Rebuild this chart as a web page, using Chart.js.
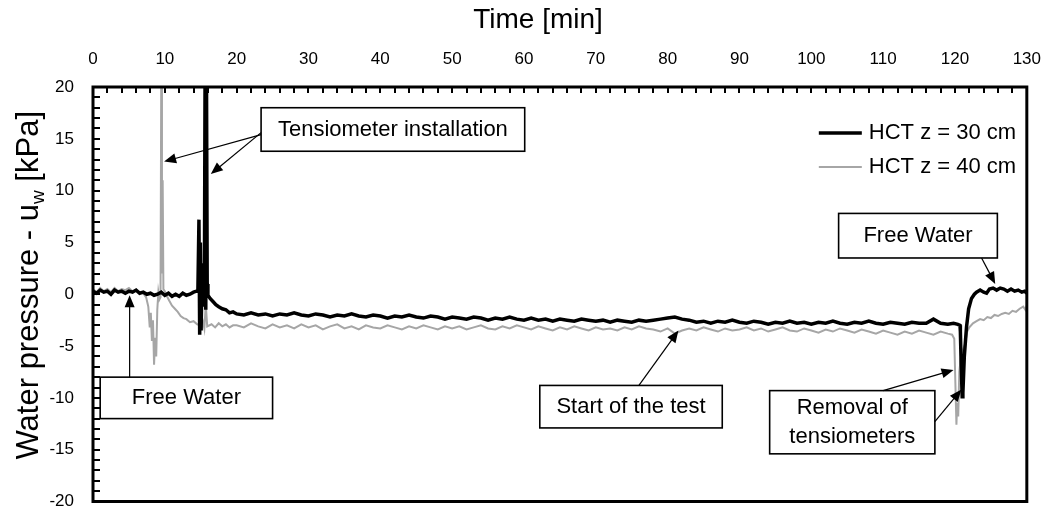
<!DOCTYPE html>
<html>
<head>
<meta charset="utf-8">
<script src="https://cdn.jsdelivr.net/npm/chart.js@4.4.0/dist/chart.umd.min.js"></script>
<style>
  html, body { margin: 0; padding: 0; background: #fff; }
  #wrap { width: 1058px; height: 529px; }
</style>
</head>
<body>
<div id="wrap"><canvas id="pressureChart" width="1058" height="529"></canvas></div>
<script>
// readings every minute during the test (both tensiometers)
const minutes = [20,21,22,23,24,25,26,27,28,29,30,31,32,33,34,35,36,37,38,39,
    40,41,42,43,44,45,46,47,48,49,50,51,52,53,54,55,56,57,58,59,
    60,61,62,63,64,65,66,67,68,69,70,71,72,73,74,75,76,77,78,79,
    80,81,82,83,84,85,86,87,88,89,90,91,92,93,94,95,96,97,98,99,
    100,101,102,103,104,105,106,107,108,109,110,111,112,113,114,115,116,117,118,119];

// HCT z = 30 cm
const tStart30 = [0,0.5,1,1.5,2,2.5,3,3.5,4,4.5,5,5.5,6,6.5,7,7.5,8,8.5,9,9.5,10,10.5,11,11.5,12,12.5,13,13.5,14,14.4,
    14.6,14.75,14.85,14.95,15.05,15.2,15.3,15.4,15.5,15.6,15.7,15.8,15.9,16.0,16.3,16.7,17.1,17.5,18.0,18.5,19.0,19.5];
const uStart30 = [0.3,0.1,0.4,0.2,0.3,0.0,0.4,0.2,0.3,0.1,0.3,0.2,0.4,0.1,0.2,0.0,0.1,-0.1,0.0,0.2,-0.1,0.1,-0.2,0.0,-0.2,0.1,-0.1,0.0,0.2,0.3,
    0.3,7.2,-3.9,5.0,-3.5,2.8,-1.0,3.0,-1.2,21,-1.5,21,1.0,-0.1,-0.4,-0.7,-1.0,-1.2,-1.4,-1.5,-1.8,-1.7];
const uMid30 = [-1.9,-2.0,-1.8,-2.0,-1.9,-2.1,-1.9,-2.0,-1.8,-2.0,
    -2.1,-1.9,-2.0,-2.2,-2.0,-2.1,-1.9,-2.1,-2.2,-2.0,
    -2.1,-2.3,-2.1,-2.2,-2.0,-2.2,-2.3,-2.1,-2.2,-2.4,
    -2.2,-2.3,-2.4,-2.2,-2.3,-2.5,-2.3,-2.4,-2.2,-2.4,
    -2.5,-2.3,-2.5,-2.4,-2.6,-2.4,-2.5,-2.6,-2.4,-2.5,
    -2.6,-2.5,-2.7,-2.5,-2.6,-2.7,-2.5,-2.6,-2.5,-2.4,
    -2.3,-2.2,-2.4,-2.5,-2.7,-2.6,-2.8,-2.6,-2.7,-2.5,
    -2.7,-2.8,-2.6,-2.7,-2.9,-2.7,-2.8,-2.6,-2.8,-2.7,
    -2.9,-2.7,-2.8,-2.6,-2.8,-2.9,-2.7,-2.8,-2.6,-2.8,
    -2.9,-2.7,-2.8,-2.9,-2.7,-2.8,-2.8,-2.4,-2.8,-2.9];
const tEnd30 = [119.8,120.4,120.7,120.75,120.85,121.0,121.1,121.3,121.6,121.9,122.3,122.7,123.0,123.5,124.0,124.4,124.8,125.3,125.8,126.3,
    126.8,127.3,127.8,128.3,128.8,129.3,129.7,130];
const uEnd30 = [-2.8,-2.9,-3.0,-3.6,-6.5,-9.9,-9.5,-6.0,-3.2,-1.4,-0.4,0.0,0.2,0.4,0.2,0.1,0.5,0.6,0.4,0.6,
    0.5,0.3,0.5,0.3,0.4,0.2,0.3,0.1];

// HCT z = 40 cm
const tStart40 = [0,0.5,1,1.5,2,2.5,3,3.5,4,4.5,5,5.5,6,6.5,7,
    7.4,7.7,7.9,8.05,8.2,8.35,8.5,8.65,8.8,8.95,9.1,9.25,9.4,9.5,9.6,9.7,9.8,
    10.0,10.3,10.6,11.0,11.4,11.8,12.2,12.6,13.0,13.5,14.0,14.5,15.0,15.3,15.5,15.7,15.9,16.5,17.0,17.5,18.0,18.5,19.0,19.5];
const uStart40 = [0.5,0.2,0.6,0.3,0.5,0.2,0.6,0.3,0.5,0.4,0.6,0.3,0.4,0.2,0.1,
    -0.3,-1.2,-3.2,-1.8,-4.5,-2.5,-6.8,-4.2,-6.0,-1.5,0.2,-0.5,-0.3,21,2.0,11,0.5,
    0.3,-0.2,-0.6,-1.1,-1.4,-1.7,-2.1,-2.3,-2.4,-2.7,-2.6,-2.9,-3.0,-2.6,-3.3,-1.0,-3.1,-2.9,-3.2,-2.8,-3.1,-2.9,-3.2,-3.0];
const uMid40 = [-3.0,-3.2,-2.8,-3.1,-3.3,-2.9,-3.2,-3.0,-3.3,-2.9,
    -3.2,-3.0,-3.4,-3.1,-2.9,-3.3,-3.1,-3.4,-3.0,-3.2,
    -3.3,-3.0,-3.2,-3.4,-3.1,-3.3,-3.0,-3.2,-3.4,-3.1,
    -3.3,-3.1,-3.4,-3.2,-3.0,-3.3,-3.4,-3.1,-3.3,-3.0,
    -3.2,-3.4,-3.1,-3.3,-3.5,-3.2,-3.4,-3.1,-3.3,-3.5,
    -3.2,-3.4,-3.3,-3.5,-3.2,-3.4,-3.1,-3.3,-3.4,-3.6,
    -3.3,-3.8,-3.5,-3.3,-3.5,-3.2,-3.4,-3.6,-3.3,-3.5,
    -3.4,-3.2,-3.5,-3.3,-3.6,-3.4,-3.2,-3.5,-3.6,-3.3,
    -3.5,-3.7,-3.4,-3.6,-3.3,-3.5,-3.7,-3.4,-3.6,-3.8,
    -3.5,-3.7,-3.9,-3.6,-3.8,-3.5,-3.7,-3.9,-3.6,-3.8];
const tEnd40 = [119.6,119.9,120.05,120.2,120.3,120.45,120.6,120.8,121.0,121.4,121.7,122.0,122.5,123.0,123.5,124.0,124.5,125.0,125.5,126.0,
    126.5,127.0,127.5,128.0,128.5,129.0,129.5,129.8,130];
const uEnd40 = [-3.9,-4.3,-8.5,-12.6,-10.5,-11.8,-7.5,-6.2,-5.6,-4.8,-3.6,-3.2,-2.8,-2.6,-2.4,-2.5,-2.2,-2.3,-2.0,-2.1,
    -1.9,-1.8,-1.9,-1.6,-1.7,-1.4,-1.2,-1.5,-1.1];

const FONT = '"Liberation Sans", Arial, sans-serif';

// text boxes and arrows, in axis units (minutes / kPa)
const notes = [
    { lines: ['Tensiometer installation'], x0: 23.4, x1: 60.1, y0: 18.0, y1: 13.8,
      arrows: [[23.4, 15.4, 9.9, 12.8], [23.4, 15.6, 16.4, 11.6]] },
    { lines: ['Free Water'], x0: 1.0, x1: 25.0, y0: -8.0, y1: -12.0,
      arrows: [[5.1, -8.0, 5.1, -0.1]] },
    { lines: ['Start of the test'], x0: 62.2, x1: 87.6, y0: -8.8, y1: -12.9,
      arrows: [[76.0, -8.8, 81.5, -3.5]] },
    { lines: ['Removal of', 'tensiometers'], x0: 94.2, x1: 117.2, y0: -9.3, y1: -15.4,
      arrows: [[110.0, -9.3, 119.8, -7.3], [117.2, -12.3, 120.9, -9.2]] },
    { lines: ['Free Water'], x0: 103.8, x1: 125.9, y0: 7.8, y1: 3.5,
      arrows: [[123.7, 3.5, 125.6, 1.0]] }
];

function pairs(t, u) {
    return t.map((x, i) => ({ x: x, y: u[i] }));
}

function arrow(ctx, xa, ya, xb, yb) {
    const ang = Math.atan2(yb - ya, xb - xa);
    const len = 12, half = 5;
    ctx.beginPath();
    ctx.moveTo(xa, ya);
    ctx.lineTo(xb - Math.cos(ang) * len * 0.8, yb - Math.sin(ang) * len * 0.8);
    ctx.stroke();
    ctx.beginPath();
    ctx.moveTo(xb, yb);
    ctx.lineTo(xb - Math.cos(ang) * len - Math.sin(ang) * half, yb - Math.sin(ang) * len + Math.cos(ang) * half);
    ctx.lineTo(xb - Math.cos(ang) * len + Math.sin(ang) * half, yb - Math.sin(ang) * len - Math.cos(ang) * half);
    ctx.closePath();
    ctx.fill();
}

const decorations = {
    id: 'decorations',
    afterDatasetsDraw(chart) {
        const ctx = chart.ctx;
        const area = chart.chartArea;
        const xs = chart.scales.x, ys = chart.scales.y;
        ctx.save();

        // inward tick marks
        ctx.strokeStyle = '#000';
        ctx.lineWidth = 2;
        ctx.beginPath();
        for (let m = 2; m < 130; m += 2) {
            const px = Math.round(xs.getPixelForValue(m));
            ctx.moveTo(px, area.top);
            ctx.lineTo(px, area.top + 6);
        }
        for (let v = -19; v < 20; v += 1) {
            const py = Math.round(ys.getPixelForValue(v));
            ctx.moveTo(area.left, py);
            ctx.lineTo(area.left + 7, py);
        }
        ctx.stroke();

        // plot frame
        ctx.lineWidth = 3;
        ctx.strokeRect(area.left, area.top, area.right - area.left, area.bottom - area.top);

        // annotation boxes
        ctx.font = '22px ' + FONT;
        ctx.textAlign = 'center';
        ctx.textBaseline = 'middle';
        notes.forEach(n => {
            const l = xs.getPixelForValue(n.x0), r = xs.getPixelForValue(n.x1);
            const t = ys.getPixelForValue(n.y0), b = ys.getPixelForValue(n.y1);
            ctx.fillStyle = '#fff';
            ctx.fillRect(l, t, r - l, b - t);
            ctx.lineWidth = 1.6;
            ctx.strokeStyle = '#000';
            ctx.strokeRect(l, t, r - l, b - t);
            ctx.fillStyle = '#000';
            const lh = 29;
            const cy = (t + b) / 2 - (n.lines.length - 1) * lh / 2;
            n.lines.forEach((s, i) => ctx.fillText(s, (l + r) / 2, cy + i * lh));
            ctx.lineWidth = 1.2;
            n.arrows.forEach(a => arrow(ctx,
                xs.getPixelForValue(a[0]), ys.getPixelForValue(a[1]),
                xs.getPixelForValue(a[2]), ys.getPixelForValue(a[3])));
        });

        // legend, top right inside the plot
        ctx.textAlign = 'left';
        chart.data.datasets.forEach((ds, i) => {
            const y = area.top + 46 + i * 34;
            ctx.strokeStyle = ds.borderColor;
            ctx.lineWidth = ds.borderWidth;
            ctx.beginPath();
            ctx.moveTo(area.right - 208, y);
            ctx.lineTo(area.right - 165, y);
            ctx.stroke();
            ctx.fillStyle = '#000';
            ctx.fillText(ds.label, area.right - 158, y);
        });

        // x title (sits a little left of the plot centre)
        ctx.textAlign = 'center';
        ctx.font = '28px ' + FONT;
        ctx.fillText('Time [min]', 538, 20);

        // y title with subscript
        ctx.translate(27, (area.top + area.bottom) / 2 - 9);
        ctx.rotate(-Math.PI / 2);
        const big = '31px ' + FONT, small = '19px ' + FONT;
        const p1 = 'Water pressure - u', p2 = 'w', p3 = ' [kPa]';
        ctx.font = big;
        const w1 = ctx.measureText(p1).width, w3 = ctx.measureText(p3).width;
        ctx.font = small;
        const w2 = ctx.measureText(p2).width;
        let x = -(w1 + w2 + w3) / 2;
        ctx.textAlign = 'left';
        ctx.textBaseline = 'alphabetic';
        ctx.fillStyle = '#000';
        ctx.font = big;
        ctx.fillText(p1, x, 11);
        x += w1;
        ctx.font = small;
        ctx.fillText(p2, x, 17);
        x += w2;
        ctx.font = big;
        ctx.fillText(p3, x, 11);
        ctx.restore();
    }
};

const ctx = document.getElementById('pressureChart').getContext('2d');
const pressureChart = new Chart(ctx, {
    type: 'line',
    data: {
        datasets: [{
            label: 'HCT z = 30 cm',
            data: pairs(tStart30.concat(minutes, tEnd30), uStart30.concat(uMid30, uEnd30)),
            borderColor: '#000000',
            borderWidth: 3.5,
            clip: 0
        }, {
            label: 'HCT z = 40 cm',
            data: pairs(tStart40.concat(minutes, tEnd40), uStart40.concat(uMid40, uEnd40)),
            borderColor: '#a6a6a6',
            borderWidth: 2,
            clip: 0
        }]
    },
    options: {
        responsive: false,
        animation: false,
        devicePixelRatio: 1,
        layout: { padding: { top: 0, right: 24, bottom: 9, left: 0 } },
        elements: { point: { radius: 0 }, line: { tension: 0 } },
        plugins: { legend: { display: false }, tooltip: { enabled: false } },
        scales: {
            x: {
                type: 'linear',
                position: 'top',
                min: 0,
                max: 130,
                ticks: { stepSize: 10, color: '#000', font: { family: FONT, size: 17 }, padding: 17, maxRotation: 0, autoSkip: false },
                grid: { display: false, drawTicks: false },
                border: { display: false },
                afterFit: function(scale) { scale.height = 87; }
            },
            y: {
                min: -20,
                max: 20,
                ticks: { stepSize: 5, color: '#000', font: { family: FONT, size: 17, lineHeight: 1 }, padding: 19 },
                grid: { display: false, drawTicks: false },
                border: { display: false },
                afterFit: function(scale) { scale.width = 93; }
            }
        }
    },
    plugins: [decorations]
});
</script>
</body>
</html>
